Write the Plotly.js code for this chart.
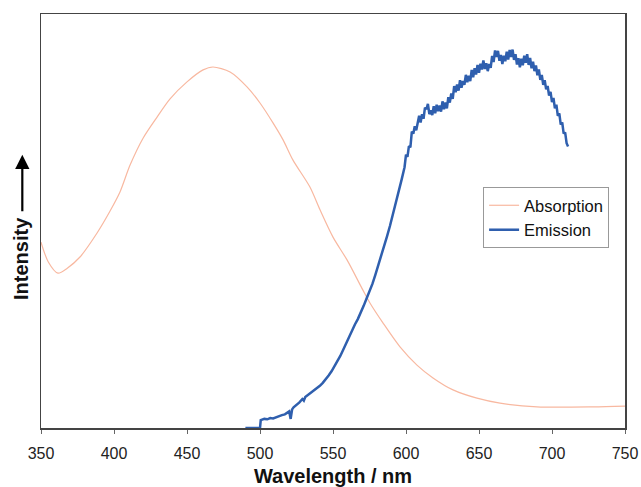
<!DOCTYPE html>
<html>
<head>
<meta charset="utf-8">
<script src="https://cdn.plot.ly/plotly-3.0.1.min.js"></script>
<style>html,body{margin:0;padding:0;background:#fff;}#chart{width:641px;height:487px;}</style>
</head>
<body>
<div id="chart"></div>
<script>
// Absorption spectrum (wavelength nm, relative intensity)
var absWavelength = [350, 355, 361.6, 368, 376.7, 388.4, 397.3, 404.1, 411, 419.9, 429.5, 438.4, 450, 461, 467.8, 479.5, 491.1, 500, 508.9, 515.8, 522.6, 534.2, 541.1, 550, 559.6, 570.5, 575.3, 584.2, 595.9, 607.5, 618.5, 632.2, 648.6, 664.4, 689.7, 728, 750];
var absIntensity = [0.449, 0.401, 0.374, 0.386, 0.413, 0.471, 0.524, 0.570, 0.635, 0.700, 0.751, 0.795, 0.836, 0.865, 0.872, 0.860, 0.824, 0.785, 0.737, 0.696, 0.647, 0.582, 0.527, 0.461, 0.406, 0.333, 0.302, 0.254, 0.196, 0.152, 0.121, 0.092, 0.072, 0.060, 0.051, 0.051, 0.053];

// Emission spectrum (wavelength nm, relative intensity)
var emWavelength = [490, 500, 500.5, 501, 503, 505, 507, 509, 511, 513, 515, 517, 519, 520, 521, 522, 523, 525, 527, 529, 530, 531, 533, 535, 537, 539, 541, 543, 545, 547, 549, 551, 553, 555, 557, 559, 561, 563, 565, 567, 569, 571, 573, 575, 577, 579, 581, 583, 585, 587, 589, 591, 593, 595, 597, 599,
  600, 601, 602, 603, 604, 605, 606, 607, 608, 609, 610, 611, 612, 613, 614, 615, 616, 617, 618, 619, 620, 621, 622, 623, 624, 625, 626, 627, 628, 629, 630, 631, 632, 633, 634, 635, 636, 637, 638, 639, 640, 641, 642, 643, 644, 645, 646, 647, 648, 649, 650, 651, 652, 653, 654, 655, 656, 657, 658, 659, 660, 661, 662, 663, 664, 665, 666, 667, 668, 669, 670, 671, 672, 673, 674, 675, 676, 677, 678, 679, 680, 681, 682, 683, 684, 685, 686, 687, 688, 689, 690, 691, 692, 693, 694, 695, 696, 697, 698, 699, 700, 701, 702, 703, 704, 705, 706, 707, 708, 709, 710, 711];
var emIntensity = [0, 0, 0.019, 0.020, 0.022, 0.021, 0.024, 0.023, 0.026, 0.028, 0.031, 0.033, 0.037, 0.040, 0.022, 0.045, 0.050, 0.055, 0.062, 0.070, 0.066, 0.075, 0.080, 0.085, 0.090, 0.096, 0.102, 0.109, 0.117, 0.127, 0.137, 0.149, 0.161, 0.174, 0.189, 0.205, 0.221, 0.236, 0.250, 0.263, 0.278, 0.295, 0.313, 0.330, 0.348, 0.370, 0.392, 0.416, 0.440, 0.463, 0.488, 0.515, 0.541, 0.570, 0.600, 0.630,
  0.660, 0.655, 0.681, 0.678, 0.716, 0.711, 0.729, 0.719, 0.739, 0.754, 0.738, 0.758, 0.747, 0.774, 0.770, 0.783, 0.758, 0.767, 0.756, 0.777, 0.760, 0.781, 0.765, 0.779, 0.764, 0.789, 0.770, 0.786, 0.772, 0.799, 0.786, 0.808, 0.795, 0.826, 0.811, 0.830, 0.815, 0.840, 0.822, 0.838, 0.829, 0.853, 0.835, 0.851, 0.838, 0.865, 0.847, 0.869, 0.854, 0.877, 0.858, 0.880, 0.866, 0.888, 0.867, 0.881, 0.862, 0.879, 0.870, 0.899, 0.884, 0.912, 0.896, 0.911, 0.887, 0.901, 0.879, 0.899, 0.886, 0.909, 0.890, 0.913, 0.896, 0.914, 0.889, 0.903, 0.878, 0.893, 0.871, 0.892, 0.876, 0.899, 0.882, 0.903, 0.877, 0.894, 0.869, 0.885, 0.862, 0.876, 0.852, 0.866, 0.841, 0.853, 0.829, 0.840, 0.818, 0.826, 0.803, 0.812, 0.787, 0.797, 0.772, 0.781, 0.754, 0.760, 0.733, 0.738, 0.711, 0.714, 0.688, 0.680];

var xTicks = [350, 400, 450, 500, 550, 600, 650, 700, 750];
var seriesNames = ['Absorption', 'Emission'];

var font = 'Liberation Sans, Arial, Helvetica, sans-serif';

var traces = [
  {x: absWavelength, y: absIntensity, name: seriesNames[0], type: 'scatter', mode: 'lines',
   line: {color: '#F8B8A0', width: 1.2, shape: 'spline', smoothing: 0.8}},
  {x: emWavelength, y: emIntensity, name: seriesNames[1], type: 'scatter', mode: 'lines',
   line: {color: '#2F5FAE', width: 2.5}}
];

var layout = {
  width: 641, height: 487,
  margin: {l: 41, r: 16, t: 14, b: 59},
  paper_bgcolor: '#fff', plot_bgcolor: '#fff',
  font: {family: font, color: '#222'},
  showlegend: true,
  legend: {x: 0.757, y: 0.582, xanchor: 'left', yanchor: 'top',
    bordercolor: '#999', borderwidth: 1, bgcolor: '#fff',
    font: {family: font, size: 16.5, color: '#111'}},
  xaxis: {range: [350, 750], tickvals: xTicks, ticktext: xTicks.map(String),
    showgrid: false, zeroline: false, showline: true, linecolor: '#444', linewidth: 1.5, mirror: true,
    ticks: 'outside', ticklen: 4, tickcolor: '#666', tickwidth: 1, ticklabelstandoff: 6,
    tickfont: {family: font, size: 16, color: '#222'},
    title: {text: '<b>Wavelength / nm</b>', font: {family: font, size: 20, color: '#111'}, standoff: 10}},
  yaxis: {range: [0, 1], showticklabels: false, ticks: '', showgrid: false, zeroline: false,
    showline: true, linecolor: '#444', linewidth: 1.5, mirror: true},
  annotations: [
    {text: '<b>Intensity</b>', xref: 'paper', yref: 'paper', x: -0.033, y: 0.41,
     xanchor: 'center', yanchor: 'middle', textangle: -90, showarrow: false,
     font: {family: font, size: 20, color: '#111'}},
    {text: '', xref: 'paper', yref: 'paper', x: -0.032, y: 0.66, showarrow: true,
     axref: 'pixel', ayref: 'pixel', ax: 0, ay: 58, arrowhead: 2, arrowsize: 1.3, arrowwidth: 2.2,
     arrowcolor: '#000'}
  ]
};

Plotly.newPlot('chart', traces, layout, {displayModeBar: false, staticPlot: true});
</script>
</body>
</html>
